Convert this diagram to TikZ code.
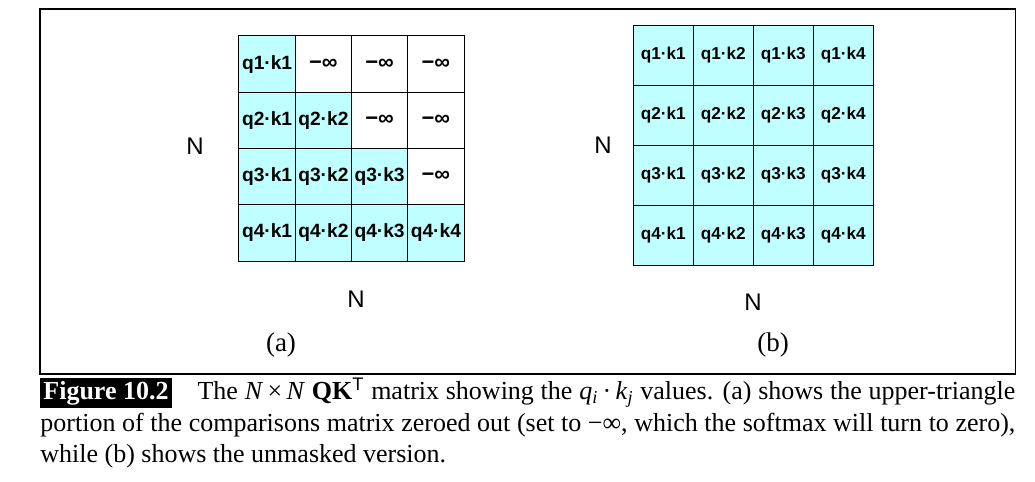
\documentclass[tikz,border=0pt]{standalone}
\usepackage{fontspec}
\setmainfont{Liberation Serif}
\setsansfont{Liberation Sans}
\usetikzlibrary{positioning}
\definecolor{qkcyan}{RGB}{192,255,255}
\tikzset{
	cella/.style={draw, fill=qkcyan, line width=0.5pt, minimum size=28.125pt, inner sep=0pt, outer sep=0pt, font=\sffamily\bfseries\fontsize{9.6}{11}\selectfont},
	maska/.style={cella, fill=white, font=\sffamily\bfseries\fontsize{11}{13}\selectfont},
	cellb/.style={cella, minimum size=30pt, font=\sffamily\bfseries\fontsize{8.6}{10}\selectfont},
	dimlabel/.style={font=\sffamily\fontsize{12}{14}\selectfont},
	sublabel/.style={font=\fontsize{13.5}{16}\selectfont}
}

\begin{document}
\begin{tikzpicture}[x=0.5pt,y=-0.5pt]
		\useasboundingbox (0,0) rectangle (1035,482);
		\draw[line width=0.6pt] (40,9) rectangle (1015.5,374);
		% (a) masked
		\node[cella] (a11) at (267.1,64.1) {q1·k1};
		\node[maska] (a12) at (323.4,64.1) {−∞};
		\node[maska] (a13) at (379.6,64.1) {−∞};
		\node[maska] (a14) at (435.9,64.1) {−∞};
		\node[cella] (a21) at (267.1,120.4) {q2·k1};
		\node[cella] (a22) at (323.4,120.4) {q2·k2};
		\node[maska] (a23) at (379.6,120.4) {−∞};
		\node[maska] (a24) at (435.9,120.4) {−∞};
		\node[cella] (a31) at (267.1,176.6) {q3·k1};
		\node[cella] (a32) at (323.4,176.6) {q3·k2};
		\node[cella] (a33) at (379.6,176.6) {q3·k3};
		\node[maska] (a34) at (435.9,176.6) {−∞};
		\node[cella] (a41) at (267.1,232.9) {q4·k1};
		\node[cella] (a42) at (323.4,232.9) {q4·k2};
		\node[cella] (a43) at (379.6,232.9) {q4·k3};
		\node[cella] (a44) at (435.9,232.9) {q4·k4};
		\node[dimlabel] (na) at (195,146) {N};
		\node[dimlabel] (ma) at (356,299) {N};
		\node[sublabel] (capa) at (281,345) {(a)};
		% (b) unmasked
		\node[cellb] (b11) at (663.3,55) {q1·k1};
		\node[cellb] (b12) at (723.3,55) {q1·k2};
		\node[cellb] (b13) at (783.3,55) {q1·k3};
		\node[cellb] (b14) at (843.3,55) {q1·k4};
		\node[cellb] (b21) at (663.3,115) {q2·k1};
		\node[cellb] (b22) at (723.3,115) {q2·k2};
		\node[cellb] (b23) at (783.3,115) {q2·k3};
		\node[cellb] (b24) at (843.3,115) {q2·k4};
		\node[cellb] (b31) at (663.3,175) {q3·k1};
		\node[cellb] (b32) at (723.3,175) {q3·k2};
		\node[cellb] (b33) at (783.3,175) {q3·k3};
		\node[cellb] (b34) at (843.3,175) {q3·k4};
		\node[cellb] (b41) at (663.3,235) {q4·k1};
		\node[cellb] (b42) at (723.3,235) {q4·k2};
		\node[cellb] (b43) at (783.3,235) {q4·k3};
		\node[cellb] (b44) at (843.3,235) {q4·k4};
		\node[dimlabel] (nb) at (603,145) {N};
		\node[dimlabel] (mb) at (753,302) {N};
		\node[sublabel] (capb) at (773,345) {(b)};
		% caption
		\node[anchor=base west, inner sep=0pt] (caption) at (40,399.5) {\parbox[t]{487.5pt}{\fontsize{13}{15.8}\selectfont\setlength{\fboxsep}{1.5pt}%
			\colorbox{black}{\textcolor{white}{\bfseries Figure 10.2}}\quad The \textit{N}\,×\,\textit{N} \textbf{QK}\textsuperscript{\sffamily T} matrix showing the \textit{q}\textsubscript{\textit{i}}\,·\,\textit{k}\textsubscript{\textit{j}} values. (a) shows the upper-triangle\linebreak
			portion of the comparisons matrix zeroed out (set to −∞, which the softmax will turn to zero),\linebreak
			while (b) shows the unmasked version.}};
	\end{tikzpicture}
\end{document}
